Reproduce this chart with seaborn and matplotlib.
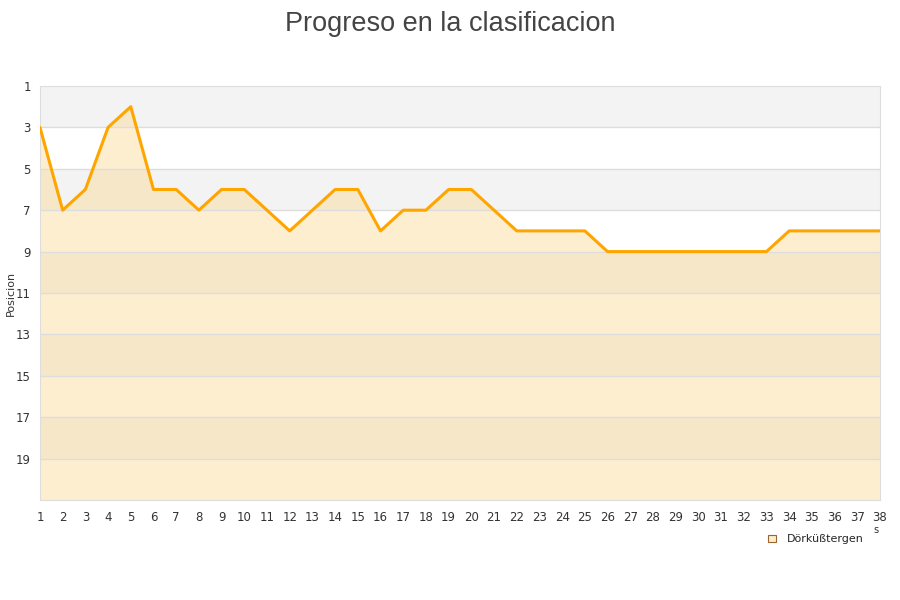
import numpy as np
import pandas as pd
import seaborn as sns
import matplotlib.pyplot as plt
from matplotlib.patches import Patch

# jornada -> posicion
jornadas = list(range(1, 39))
posiciones = [3, 7, 6, 3, 2, 6, 6, 7, 6, 6, 7, 8, 7, 6, 6, 8, 7, 7, 6, 6,
              7, 8, 8, 8, 8, 9, 9, 9, 9, 9, 9, 9, 9, 8, 8, 8, 8, 8]
equipo = 'Dörküßtergen'
y_ticks = [1, 3, 5, 7, 9, 11, 13, 15, 17, 19]

df = pd.DataFrame({'Jornada': jornadas, 'Posicion': posiciones})

sns.set_style('white')
plt.rcParams['font.family'] = ['DejaVu Sans']

fig = plt.figure(figsize=(9, 6), dpi=100)
ax = fig.add_axes([0.0444, 0.1667, 0.9334, 0.69])

# alternating grey bands
for lo in range(1, 21, 4):
    ax.axhspan(lo, lo + 2, color='#f3f3f3', zorder=0, lw=0)

ax.fill_between(df['Jornada'], df['Posicion'], 21, color='#fcd68a', alpha=0.4, lw=0, zorder=1)
sns.lineplot(data=df, x='Jornada', y='Posicion', ax=ax, color='#ffa500', lw=2.2, zorder=3)

for yv in y_ticks[1:]:
    ax.axhline(yv, color='#dddddd', lw=1, zorder=2)

ax.set_xlim(1, 38)
ax.set_ylim(21, 1)
ax.set_xticks(jornadas)
ax.set_yticks(y_ticks)
ax.tick_params(axis='both', labelsize=8.5, colors='#333333', length=0)
ax.tick_params(axis='x', pad=8)
ax.tick_params(axis='y', pad=6.5)
for s in ax.spines.values():
    s.set_color('#dddddd')
ax.set_xlabel('')
ax.set_ylabel('Posicion', fontsize=8, color='#333333')
ax.yaxis.set_label_coords(-0.029, 0.5)

fig.suptitle('Progreso en la clasificacion', fontsize=19.5, color='#444444', y=0.982,
             family=['Liberation Sans', 'DejaVu Sans'])

handle = Patch(facecolor='#fdecc9', edgecolor='#996633', lw=0.8)
fig.legend([handle], [equipo], loc='center', bbox_to_anchor=(0.907, 0.101),
           frameon=False, fontsize=8, handlelength=0.7, handleheight=0.7, handletextpad=1.0)
fig.text(0.97, 0.112, 's', fontsize=7, color='#333333')

fig.savefig('out.png', dpi=100)
